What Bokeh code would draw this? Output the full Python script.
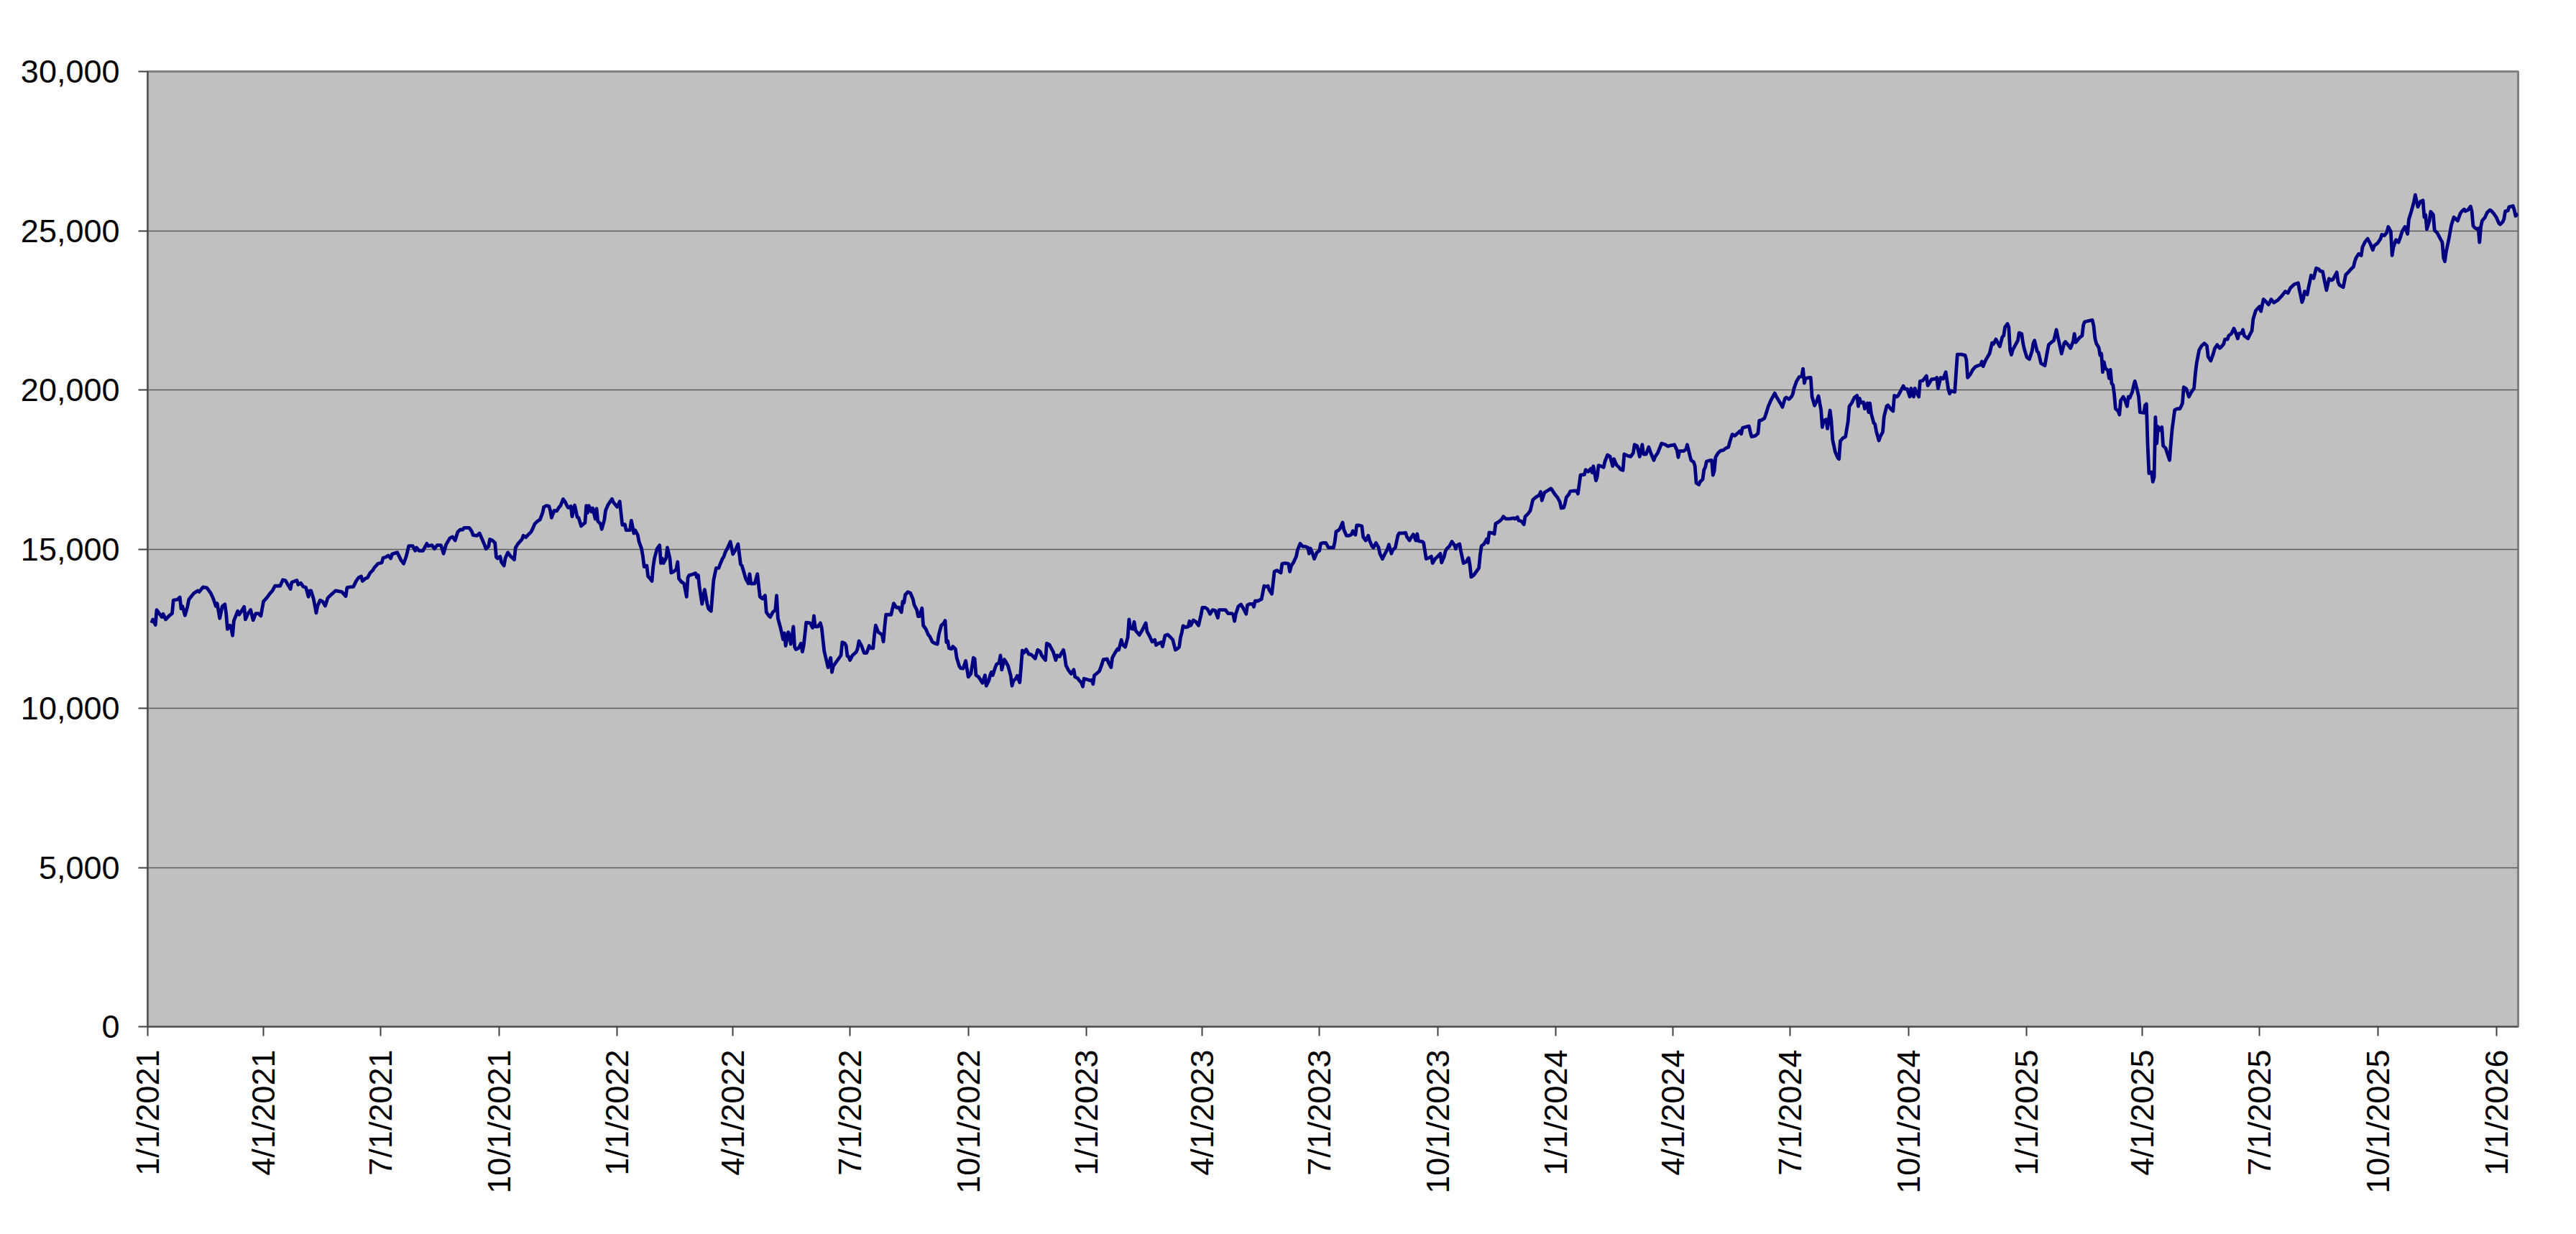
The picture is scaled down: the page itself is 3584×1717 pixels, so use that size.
import math
import pandas as pd
from bokeh.plotting import figure
from bokeh.models import FixedTicker, NumeralTickFormatter, Range1d, ColumnDataSource, DatetimeTickFormatter
from bokeh.embed import file_html
from bokeh.resources import INLINE

# ---------------- data ----------------
START_DATE = "2021-01-01"   # day_offset counts calendar days from this date

day_offset = [
    3, 4, 6, 7, 9, 11, 12, 14, 17, 19, 20, 23, 25, 26, 27, 29, 31, 32, 34, 36, 39, 40, 43, 46, 49, 51, 53, 54, 56, 58,
    60, 61, 62, 64, 65, 66, 67, 70, 71, 73, 75, 76, 78, 80, 82, 84, 86, 88, 90, 93, 95, 97, 99, 101, 103, 105, 107, 109,
    111, 112, 116, 117, 119, 121, 123, 125, 126, 127, 129, 131, 132, 134, 136, 138, 140, 142, 144, 146, 149, 151, 154,
    155, 157, 160, 162, 164, 166, 167, 169, 171, 173, 175, 176, 179, 182, 183, 185, 187, 189, 190, 194, 197, 199, 201,
    203, 206, 208, 209, 211, 214, 217, 218, 221, 223, 225, 228, 230, 232, 235, 237, 239, 241, 243,
    245, 246, 250, 252, 253, 256, 258, 260, 262, 263, 265, 266, 268, 270, 271, 272, 274, 275, 277, 278, 280, 282, 284,
    285, 286, 288, 291, 292, 294, 296, 298, 299, 301, 303, 305, 307, 308, 310, 312, 313, 314, 315, 316, 318, 320, 321,
    323, 325, 326, 327, 329, 330, 331, 332, 334, 335, 337, 339, 340, 341, 342, 343, 345, 346, 348, 349, 350, 352, 353,
    355, 356, 358, 360, 361, 362, 365, 366, 367, 369, 371, 372, 375, 376, 378, 379, 381, 382, 384, 385, 386, 388, 389,
    390, 392, 393, 394, 396, 398, 399, 400, 401, 403, 404, 406, 407, 409, 411, 412, 413, 415, 417, 419, 420, 421, 423,
    426, 427, 428, 429, 431, 433, 435, 436, 438, 440, 442, 444, 445, 447, 448, 449, 451, 453, 455, 457, 459, 461, 462,
    465, 467, 468, 469, 472, 474, 476, 478, 480, 481, 483,
    484, 486, 488, 489, 490, 492, 494, 495, 496, 498, 499, 500, 502, 503, 504, 506, 508, 509, 510, 512, 515, 517, 518,
    519, 521, 523, 524, 526, 529, 531, 532, 533, 535, 537, 539, 540, 542, 543, 544, 545, 546, 548, 551, 552, 553, 555,
    557, 559, 561, 562, 564, 565, 566, 568, 570, 571, 572, 573, 574, 577, 578, 580, 582, 584, 586, 587, 588, 589, 591,
    593, 595, 596, 598, 599, 600, 602, 603, 605, 607, 608, 610, 612, 614, 615, 617, 619, 620, 621, 622, 623, 625, 626,
    628, 629, 631, 632, 634, 636, 637, 638, 640, 641, 642, 643, 644, 646, 648, 649, 651, 652, 654, 655, 656, 657, 659,
    660, 662, 663, 664, 666, 667, 669, 671, 672, 673, 675, 676, 678, 679, 680, 681, 683, 685, 687, 690, 692, 694, 695,
    698, 699, 701, 703, 704, 706, 707, 709, 710, 712, 713, 714, 716, 718, 720, 721, 723,
    724, 726, 727, 728, 730, 733, 734, 735, 736, 738, 740, 742, 743, 746, 747, 749, 750, 752, 754, 755, 757, 758, 760,
    762, 763, 764, 766, 767, 768, 771, 773, 776, 777, 779, 781, 783, 784, 786, 788, 789, 791, 793, 795, 797, 799, 801,
    802, 803, 804, 805, 807, 809, 810, 811, 813, 815, 817, 819, 820, 822, 824, 826, 828, 830, 832, 833, 835, 838, 840,
    843, 844, 845, 846, 848, 850, 852, 854, 855, 857, 859, 860, 861, 863, 866, 868, 869, 871, 872, 874, 876, 878, 881,
    882, 884, 887, 888, 889, 891, 893, 894, 896, 898, 900, 902, 903, 904, 906, 907, 909, 911, 912, 914, 916, 918, 920,
    922, 923, 924, 926, 927, 929, 930, 932, 934, 936, 937, 939, 940, 942, 944, 945, 947, 949, 950, 952, 953, 955, 957,
    958, 960, 962, 964,
    965, 967, 968, 970, 972, 973, 976, 978, 979, 981, 982, 984, 986, 987, 988, 991, 992, 994, 996, 998, 999, 1001, 1003,
    1005, 1006, 1008, 1009, 1010, 1012, 1014, 1016, 1017, 1018, 1020, 1021, 1023, 1025, 1027, 1028, 1029, 1031, 1033,
    1035, 1036, 1037, 1039, 1041, 1042, 1043, 1046, 1047, 1048, 1049, 1051, 1053, 1054, 1056, 1059, 1062, 1063, 1065,
    1066, 1068, 1070, 1071, 1073, 1075, 1077, 1078, 1080, 1082, 1083, 1084, 1086, 1089, 1091, 1092, 1094, 1096, 1098,
    1099, 1101, 1102, 1103, 1105, 1106, 1109, 1111, 1112, 1114, 1117, 1118, 1120, 1122, 1123, 1124, 1126, 1127, 1128,
    1130, 1132, 1133, 1135, 1137, 1139, 1140, 1142, 1144, 1145, 1147, 1148, 1151, 1153, 1155, 1156, 1158, 1160, 1162,
    1163, 1165, 1167, 1169, 1171, 1172, 1174, 1177, 1180, 1182, 1184, 1185, 1187, 1189, 1190, 1191, 1194, 1196, 1197,
    1199, 1200, 1202, 1203, 1204,
    1206, 1207, 1209, 1210, 1211, 1212, 1214, 1216, 1217, 1218, 1219, 1221, 1223, 1225, 1227, 1229, 1230, 1232, 1234,
    1236, 1238, 1239, 1240, 1243, 1245, 1246, 1247, 1250, 1252, 1253, 1255, 1257, 1258, 1260, 1262, 1265, 1266, 1268,
    1270, 1271, 1273, 1274, 1276, 1278, 1279, 1280, 1282, 1284, 1286, 1287, 1288, 1289, 1292, 1293, 1294, 1296, 1298,
    1299, 1301, 1302, 1303, 1305, 1306, 1308, 1309, 1310, 1311, 1312, 1314, 1315, 1316, 1318, 1320, 1321, 1322, 1323,
    1325, 1327, 1329, 1330, 1331, 1332, 1334, 1335, 1337, 1338, 1339, 1340, 1342, 1343, 1344, 1346, 1347, 1349, 1350,
    1352, 1353, 1355, 1357, 1358, 1360, 1361, 1363, 1365, 1366, 1368, 1370, 1371, 1373, 1374, 1375, 1377, 1378, 1380,
    1383, 1384, 1387, 1388, 1390, 1391, 1392, 1394, 1396, 1398, 1400, 1401, 1402, 1405, 1407, 1410, 1413, 1414, 1415,
    1417, 1419, 1421, 1423, 1425, 1426, 1427, 1429, 1432, 1434, 1435, 1437, 1438, 1440, 1442, 1443, 1444,
    1446, 1447, 1448, 1449, 1450, 1452, 1454, 1455, 1457, 1458, 1459, 1461, 1463, 1465, 1466, 1467, 1469, 1470, 1471,
    1472, 1475, 1476, 1477, 1478, 1480, 1482, 1484, 1485, 1487, 1488, 1490, 1491, 1493, 1495, 1497, 1498, 1499, 1501,
    1502, 1504, 1505, 1506, 1509, 1512, 1513, 1514, 1515, 1517, 1518, 1519, 1520, 1521, 1522, 1524, 1525, 1526, 1527,
    1528, 1529, 1530, 1532, 1533, 1534, 1536, 1537, 1539, 1540, 1541, 1543, 1544, 1545, 1547, 1548, 1549, 1552, 1553,
    1554, 1555, 1556, 1558, 1559, 1560, 1561, 1562, 1563, 1564, 1566, 1567, 1569, 1570, 1572, 1573, 1574, 1576, 1578,
    1580, 1581, 1582, 1583, 1585, 1587, 1589, 1591, 1592, 1593, 1595, 1597, 1599, 1601, 1602, 1604, 1606, 1607, 1609,
    1611, 1612, 1614, 1615, 1617, 1618, 1620, 1622, 1623, 1625, 1626, 1628, 1629, 1630, 1633, 1634, 1636, 1637, 1639,
    1642, 1643, 1645, 1647, 1649, 1651, 1653, 1656, 1659, 1661, 1662, 1664, 1666, 1669, 1672, 1673, 1675, 1676, 1677,
    1679, 1680, 1681,
    1682, 1683, 1684, 1686, 1688, 1689, 1691, 1693, 1694, 1696, 1698, 1699, 1702, 1703, 1704, 1707, 1709, 1711, 1713,
    1715, 1716, 1717, 1719, 1721, 1722, 1724, 1726, 1728, 1730, 1731, 1734, 1736, 1737, 1739, 1741, 1742, 1744, 1745,
    1746, 1748, 1750, 1751, 1753, 1755, 1757, 1758, 1760, 1762, 1763, 1765, 1767, 1769, 1770, 1771, 1772, 1774, 1775,
    1777, 1778, 1780, 1781, 1783, 1784, 1785, 1786, 1787, 1789, 1791, 1793, 1794, 1796, 1798, 1799, 1801, 1802, 1804,
    1806, 1807, 1808, 1809, 1811, 1812, 1813, 1814, 1815, 1817, 1819, 1821, 1822, 1824, 1826, 1828, 1829, 1831, 1832,
    1833, 1835, 1836, 1839, 1840, 1841, 1842, 1843,
]

index_value = [
    12677, 12790, 12617, 13091, 12978, 12865, 12963, 12790, 12918, 12978, 13392, 13414, 13489, 13128, 13204, 12918, 13204,
    13414, 13520, 13617, 13693, 13655, 13805, 13783, 13617, 13444, 13204, 13294, 12828, 13204, 13264, 12978, 12489, 12602,
    12489, 12286, 12753, 13053, 12940, 13053, 13189, 12790, 12978, 13091, 12767, 12978, 12978, 12903, 13354, 13489, 13602,
    13693, 13843, 13843, 13843, 14031, 14016, 13881, 13745, 13956, 14016, 13881, 13933, 13820, 13790, 13505, 13693, 13693,
    13429, 12993, 13204, 13392, 13354, 13219, 13467, 13542, 13617, 13693, 13670, 13655, 13520, 13790, 13805, 13820, 13993,
    14106, 14144, 13993, 14069, 14106, 14257, 14332, 14407, 14542, 14572, 14723, 14745, 14798, 14708, 14843, 14896, 14648,
    14542, 14768, 15099, 15099, 14949, 15046, 14949, 14949, 15174, 15099, 15122, 15009, 15122, 15122, 14858, 15144, 15347,
    15385, 15272, 15535, 15611,
    15610, 15670, 15670, 15549, 15437, 15422, 15497, 15309, 15121, 15008, 15083, 15309, 15271, 15196, 14745, 14707, 14767,
    14594, 14481, 14707, 14895, 14782, 14707, 14669, 15046, 15173, 15309, 15422, 15369, 15459, 15534, 15610, 15798, 15873,
    15925, 16136, 16324, 16362, 16347, 16211, 15986, 16098, 16211, 16196, 16324, 16362, 16572, 16452, 16362, 16301, 16347,
    16023, 16211, 16377, 16001, 15986, 15722, 15798, 15820, 16362, 16136, 16362, 16174, 16286, 15948, 16271, 15873, 15798,
    15625, 15910, 16211, 16399, 16512, 16572, 16474, 16324, 16399, 16497, 15760, 15775, 15595, 15595, 15895, 15497, 15595,
    15444, 15233, 15008, 14767, 14444, 14481, 14143, 14105, 13993, 14444, 14707, 15008, 15121, 14557, 14707, 14557, 14707,
    15046, 14707, 14256, 14293, 14369, 14594, 14068, 13970, 13917, 13504, 14105, 14181, 14196, 14241, 14105, 14181, 13805,
    13278, 13729, 13278, 13128, 13052, 14030, 14406, 14406, 14519, 14707, 14767, 14895, 15046, 15233, 14842, 14970, 15158,
    14519, 14481, 14068, 13917, 14218, 13917, 13917, 14218, 13504, 13443, 13541, 13015, 12902,
    12865, 13015, 13090, 13542, 12827, 12526, 12165, 12361, 11962, 12391, 12286, 12015, 12564, 11925, 11849, 11887, 12037,
    11774, 11962, 12692, 12677, 12526, 12902, 12564, 12564, 12677, 12526, 11789, 11285, 11586, 11135, 11323, 11436, 11549,
    11662, 12075, 12037, 11962, 11639, 11624, 11511, 11662, 11774, 11887, 12113, 11962, 11737, 11737, 11962, 11887, 11887,
    12301, 12602, 12391, 12338, 12301, 12090, 12564, 12940, 12940, 12940, 13294, 13166, 13166, 13015, 13354, 13316, 13564,
    13655, 13617, 13429, 13241, 13090, 12887, 12887, 13143, 12602, 12489, 12301, 12263, 12090, 12037, 12015, 12301, 12602,
    12677, 12752, 12075, 12113, 11887, 11864, 11940, 11864, 11586, 11323, 11263, 11248, 11489, 11233, 10985, 11082, 11323,
    11586, 11549, 11037, 10985, 10857, 10797, 11037, 10706, 10872, 11037, 11135, 11037, 11285, 11383, 11436, 11662, 11210,
    11534, 11473, 11323, 11022, 10706, 10857, 10932, 11022, 10812, 11285, 11812, 11737, 11849, 11699, 11684, 11564, 11835,
    11774, 11662, 11511, 12037, 12000, 11849, 11774, 11511, 11662, 11624, 11699, 11835, 11624, 11338, 11188, 11082, 11210,
    10985, 10947,
    10887, 10796, 10683, 10932, 10909, 10872, 10887, 10759, 11037, 11097, 11172, 11398, 11533, 11548, 11436, 11285, 11586,
    11736, 11864, 11834, 12150, 12000, 11924, 12225, 12789, 12511, 12488, 12714, 12451, 12300, 12436, 12676, 12413, 12263,
    12090, 12150, 11985, 12037, 12075, 11939, 12285, 12315, 12240, 12150, 11834, 11887, 11924, 12225, 12375, 12586, 12541,
    12564, 12737, 12601, 12767, 12714, 12601, 12940, 13165, 13165, 13113, 12962, 13090, 13068, 12842, 13090, 13090, 13090,
    12977, 12977, 12940, 12737, 12962, 13203, 13263, 13128, 12962, 13241, 13278, 13278, 13188, 13369, 13369, 13429, 13842,
    13820, 13842, 13714, 13594, 14294, 14331, 14256, 14542, 14557, 14542, 14294, 14467, 14594, 14767, 14970, 15173, 15083,
    15083, 15046, 14858, 15023, 14820, 14692, 14895, 14948, 15173, 15196, 15196, 15046, 15046, 15046, 15234, 15550, 15595,
    15647, 15835, 15610, 15422, 15422, 15459, 15572, 15444, 15745, 15745, 15723, 15384, 15271, 15422, 15271, 15083, 15046,
    15196, 15046, 14858, 14692, 14858, 15008,
    15144, 14859, 14971, 15047, 15423, 15498, 15498, 15513, 15385, 15272, 15347, 15460, 15272, 15475, 15250, 15235, 15197,
    14693, 14723, 14768, 14558, 14693, 14768, 14858, 14573, 14768, 14934, 15009, 15084, 15235, 15122, 15009, 15122, 15159,
    14934, 14558, 14595, 14723, 14497, 14121, 14182, 14294, 14407, 14821, 15099, 15159, 15310, 15197, 15520, 15498, 15475,
    15799, 15821, 15874, 15949, 16024, 15949, 15949, 15972, 15949, 16002, 15896, 15874, 15776, 16024, 16099, 16212, 16551,
    16588, 16648, 16701, 16799, 16528, 16776, 16851, 16904, 16851, 16724, 16626, 16475, 16287, 16302, 16438, 16626, 16724,
    16814, 16829, 16829, 16739, 17325, 17340, 17491, 17431, 17528, 17401, 17604, 17152, 17280, 17626, 17604, 17566, 17754,
    17957, 17904, 17604, 17829, 17641, 17566, 17506, 17476, 17980, 17927, 17904, 18017, 18280, 18243, 17904, 18280, 17980,
    17980, 18205, 17980, 17792, 17904, 18017, 18318, 18280, 18228, 18258, 18258, 18280, 18107, 17882, 18077, 18077, 18130,
    18280, 17942, 17792, 17731, 17604, 17077,
    17024, 17115, 17190, 17491, 17566, 17754, 17777, 17792, 17325, 17453, 17882, 18017, 18092, 18107, 18168, 18205, 18356,
    18604, 18559, 18634, 18709, 18619, 18807, 18845, 18860, 18679, 18529, 18559, 18634, 19032, 19055, 19108, 19220, 19484,
    19672, 19897, 19807, 19672, 19537, 19461, 19732, 19762, 19709, 19785, 19860, 20048, 20273, 20409, 20424, 20664, 20213,
    20364, 20386, 20386, 19785, 19506, 19687, 19807, 19371, 18829, 19032, 19070, 18784, 19356, 19032, 18431, 18243, 18055,
    17867, 17829, 18393, 18483, 18529, 18769, 19010, 19484, 19597, 19762, 19822, 19484, 19732, 19597, 19612, 19409, 19582,
    19296, 19582, 19258, 18957, 18920, 18694, 18408, 18529, 18679, 19160, 19484, 19521, 19409, 19333, 19822, 19785, 19822,
    19973, 20123, 20033, 20033, 19785, 20048, 19785, 20048, 19935, 19785, 20273, 20288, 20439, 20138, 20334, 20334, 20349,
    20386, 20048, 20386, 20349, 20559, 20010, 19882, 19973, 19935, 21116, 21116, 21086, 20950, 20386, 20484, 20634, 20725,
    20762, 20785, 20890, 20740, 20935, 21138, 21477, 21439, 21590, 21514, 21364, 21665, 21702, 21966,
    22078, 21965, 21251, 21101, 21251, 21401, 21552, 21792, 21762, 21477, 21289, 21025, 20965, 21213, 21461, 21552, 21213,
    21176, 21010, 20837, 20762, 20988, 21213, 21416, 21492, 21552, 21890, 21687, 21326, 21138, 21461, 21514, 21416, 21311,
    21514, 21762, 21492, 21589, 21642, 21702, 22041, 22138, 22168, 22191, 22003, 21627, 21461, 21326, 21085, 21138, 20559,
    20875, 20687, 20612, 20364, 20634, 20198, 20160, 19860, 19408, 19333, 19220, 19672, 19785, 19710, 19484, 19785, 19747,
    19935, 20123, 20273, 19973, 19785, 19296, 19281, 19521, 19559, 18243, 17378, 17415, 17114, 17265, 19145, 18318, 18845,
    18731, 18829, 18243, 18167, 18032, 17791, 18318, 18769, 19371, 19408, 19408, 19484, 19581, 20085, 20033, 19785, 19935,
    20048, 20499, 20837, 21251, 21386, 21461, 21386, 21040, 20913, 21138, 21289, 21416, 21311, 21341, 21439, 21589, 21589,
    21702, 21762, 21928, 21838, 21612, 21777, 21777, 21890, 21702, 21612, 21702, 21853, 22229, 22492, 22620, 22469, 22845,
    22770, 22680, 22845, 22740, 22815, 22943, 23041, 23094, 23041, 23206, 23319, 23357, 23131, 22755, 22868, 23094, 22996,
    23206, 23394,
    23597, 23545, 23507, 23823, 23793, 23733, 23718, 23319, 23131, 23492, 23447, 23470, 23695, 23394, 23297, 23221, 23620,
    23695, 23793, 23868, 24034, 24146, 24274, 24222, 24485, 24650, 24748, 24598, 24395, 24522, 24620, 24748, 24876, 24846,
    24951, 25124, 24974, 24222, 24485, 24710, 24635, 24748, 24996, 25124, 24898, 25350, 25613, 25914, 26124, 25748, 25914,
    25951, 25425, 25500, 25049, 25312, 25598, 25500, 25011, 24936, 24861, 24710, 24635, 24146, 24034, 24335, 24710, 25162,
    25425, 25387, 25312, 25538, 25598, 25673, 25613, 25651, 25763, 25613, 25162, 25102, 25049, 25072, 24635, 25124, 25312,
    25402, 25575, 25651, 25628, 25538, 25425, 25237, 25199, 25275, 25372, 25613, 25628, 25748, 25778, 25651, 25463, 25500,
    25523,
]

x_tick_labels = [
    "1/1/2021", "4/1/2021", "7/1/2021", "10/1/2021",
    "1/1/2022", "4/1/2022", "7/1/2022", "10/1/2022",
    "1/1/2023", "4/1/2023", "7/1/2023", "10/1/2023",
    "1/1/2024", "4/1/2024", "7/1/2024", "10/1/2024",
    "1/1/2025", "4/1/2025", "7/1/2025", "10/1/2025",
    "1/1/2026",
]
y_ticks = [0, 5000, 10000, 15000, 20000, 25000, 30000]

# ---------------- build ----------------
n = min(len(day_offset), len(index_value))
dates = pd.to_datetime(START_DATE) + pd.to_timedelta(day_offset[:n], unit="D")
src = ColumnDataSource(dict(x=dates, y=index_value[:n]))

tick_dates = pd.to_datetime(x_tick_labels, format="%m/%d/%Y")
tick_ms = [float(t.value // 10**6) for t in tick_dates]
end_ms = float(dates[-1].value // 10**6)

FONT = "Liberation Sans"

p = figure(
    width=3568, height=1700,
    x_axis_type="datetime",
    output_backend="svg", toolbar_location=None,
    x_range=Range1d(tick_ms[0], end_ms),
    y_range=Range1d(y_ticks[0], y_ticks[-1]),
    min_border_left=205, min_border_right=65, min_border_top=99, min_border_bottom=272,
)

p.line("x", "y", source=src, line_color="#000080", line_width=4.8, line_join="round")

p.background_fill_color = "#C0C0C0"
p.border_fill_color = "white"
p.outline_line_color = "#808080"
p.outline_line_width = 3

p.xgrid.visible = False
p.ygrid.grid_line_color = "#5c5c5c"
p.ygrid.grid_line_width = 1.6
p.ygrid.ticker = FixedTicker(ticks=y_ticks)

p.yaxis.ticker = FixedTicker(ticks=y_ticks)
p.yaxis.formatter = NumeralTickFormatter(format="0,0")

p.xaxis.ticker = FixedTicker(ticks=tick_ms)
fmt = "%-m/%-d/%Y"
p.xaxis.formatter = DatetimeTickFormatter(
    microseconds=fmt, milliseconds=fmt, seconds=fmt, minsec=fmt, minutes=fmt,
    hourmin=fmt, hours=fmt, days=fmt, months=fmt, years=fmt,
)
p.xaxis.major_label_overrides = {ms: lab for ms, lab in zip(tick_ms, x_tick_labels)}
p.xaxis.major_label_orientation = math.pi / 2

for ax in (p.xaxis, p.yaxis):
    ax.axis_line_color = "#505050"
    ax.axis_line_width = 2
    ax.major_tick_line_color = "#404040"
    ax.major_tick_line_width = 2
    ax.major_tick_out = 13
    ax.major_tick_in = 0
    ax.minor_tick_out = 0
    ax.minor_tick_in = 0
    ax.major_label_text_font = FONT
    ax.major_label_text_font_size = "45px"
    ax.major_label_text_color = "black"

p.yaxis.major_label_standoff = 26
p.xaxis.major_label_standoff = 19

open("out.html", "w").write(file_html(p, INLINE))
